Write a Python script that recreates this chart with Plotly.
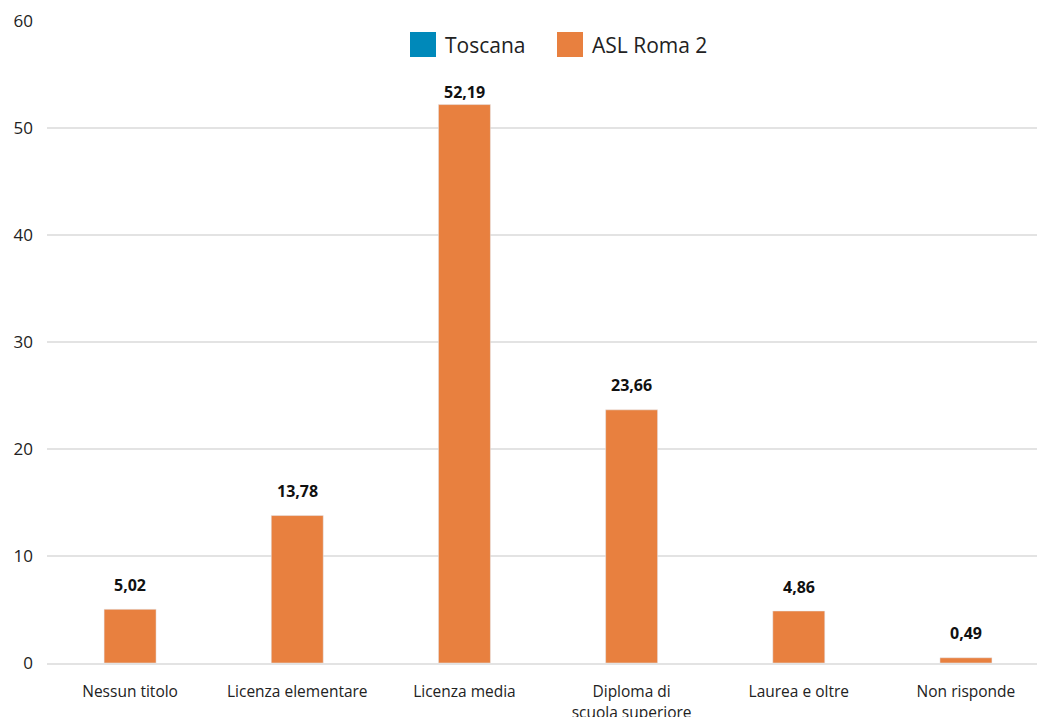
import plotly.graph_objects as go

categories = ["Nessun titolo", "Licenza elementare", "Licenza media",
              "Diploma di<br>scuola superiore", "Laurea e oltre", "Non risponde"]
asl_roma2 = [5.02, 13.78, 52.19, 23.66, 4.86, 0.49]
toscana = [None, None, None, None, None, None]
labels = ["5,02", "13,78", "52,19", "23,66", "4,86", "0,49"]
y_ticks = [0, 10, 20, 30, 40, 50, 60]

ORANGE = "#E8803F"
BLUE = "#0089BA"
FONT = "Open Sans"

fig = go.Figure()
fig.add_trace(go.Bar(x=categories, y=toscana, name="Toscana", marker_color=BLUE,
                     showlegend=False))
fig.add_trace(go.Bar(x=categories, y=asl_roma2, name="ASL Roma 2", marker_color=ORANGE,
                     showlegend=False))

PX_PER_UNIT = 642 / 60.0
LABEL_CAP = 53.4
for c, v, t in zip(categories, asl_roma2, labels):
    ly = min(v + 24.5 / PX_PER_UNIT, LABEL_CAP)
    fig.add_annotation(x=c, y=ly, text="<b>%s</b>" % t, showarrow=False,
                       yanchor="middle",
                       font=dict(family=FONT, size=16, color="#111111"))

# custom legend
legend_items = [("Toscana", BLUE, 410), ("ASL Roma 2", ORANGE, 557)]
for name, col, px in legend_items:
    fig.add_shape(type="rect", xref="paper", yref="paper",
                  x0=(px - 47) / 990, x1=(px + 26 - 47) / 990,
                  y0=(663 - 57) / 642, y1=(663 - 32) / 642,
                  fillcolor=col, line_width=0)
    fig.add_annotation(xref="paper", yref="paper", x=(px + 33 - 47) / 990,
                       y=(663 - 45) / 642, text=name, showarrow=False,
                       xanchor="left", yanchor="middle",
                       font=dict(family=FONT, size=21, color="#222222"))

fig.update_layout(
    width=1037, height=717,
    margin=dict(l=47, r=0, t=21, b=54),
    paper_bgcolor="white", plot_bgcolor="white",
    barmode="overlay", bargap=0.689,
    font=dict(family=FONT, size=16, color="#222222"),
)
fig.update_yaxes(range=[0, 60], tickvals=y_ticks, showgrid=True, gridcolor="#e3e3e3",
                 gridwidth=1.5, zeroline=False, showline=False, automargin=False,
                 tickfont=dict(family=FONT, size=17, color="#222222"),
                 ticklabelstandoff=13)
fig.update_xaxes(range=[-0.497, 5.425], showline=True, linecolor="#e3e3e3", linewidth=1.5,
                 automargin=False,
                 tickfont=dict(family=FONT, size=15.5, color="#222222"),
                 ticklabelstandoff=14)

fig.write_html("out.html")
